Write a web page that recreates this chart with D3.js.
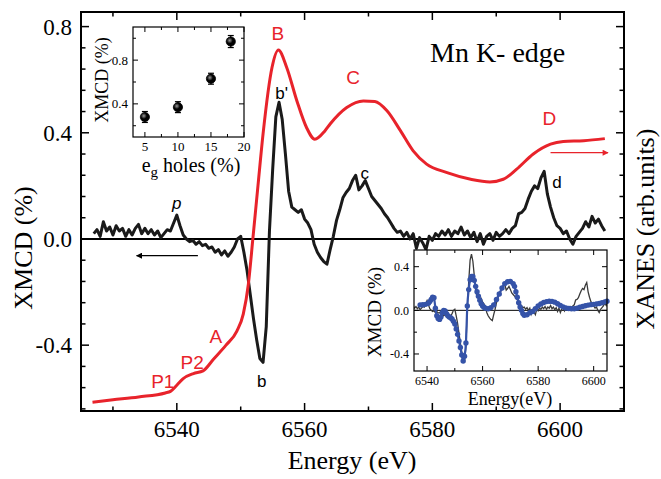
<!DOCTYPE html>
<html>
<head>
<meta charset="utf-8">
<script src="https://d3js.org/d3.v7.min.js"></script>
<style>
  body { margin: 0; background: #fff; }
  svg text { font-family: "Liberation Serif", "Times New Roman", serif; }
</style>
</head>
<body>
<svg width="661" height="479"></svg>
<script>
// XMCD spectrum (black)
const xmcdE = [6527.0,6527.5,6528.0,6528.5,6529.0,6529.5,6530.0,6530.5,6531.0,6531.5,
  6532.0,6532.5,6533.0,6533.5,6534.0,6534.5,6535.0,6535.5,6536.0,6536.5,
  6537.0,6537.5,6538.0,6538.5,6539.0,6539.5,6540.0,6540.5,6541.0,6541.5,
  6542.0,6542.5,6543.0,6543.5,6544.0,6544.5,6545.0,6545.5,6546.0,6546.5,
  6547.0,6547.5,6548.0,6548.5,6549.0,6549.5,6550.0,6550.5,6551.0,6551.5,
  6552.0,6552.5,6553.0,6553.5,6554.0,6554.5,6555.0,6555.5,6556.0,6556.5,
  6557.0,6557.5,6558.0,6558.5,6559.0,6559.5,6560.0,6560.5,6561.0,6561.5,
  6562.0,6562.5,6563.0,6563.5,6564.0,6564.5,6565.0,6565.5,6566.0,6566.5,
  6567.0,6567.5,6568.0,6568.5,6569.0,6569.5,6570.0,6570.5,6571.0,6571.5,
  6572.0,6572.5,6573.0,6573.5,6574.0,6574.5,6575.0,6575.5,6576.0,6576.5,
  6577.0,6577.5,6578.0,6578.5,6579.0,6579.5,6580.0,6580.5,6581.0,6581.5,
  6582.0,6582.5,6583.0,6583.5,6584.0,6584.5,6585.0,6585.5,6586.0,6586.5,
  6587.0,6587.5,6588.0,6588.5,6589.0,6589.5,6590.0,6590.5,6591.0,6591.5,
  6592.0,6592.5,6593.0,6593.5,6594.0,6594.5,6595.0,6595.5,6596.0,6596.5,
  6597.0,6597.5,6598.0,6598.5,6599.0,6599.5,6600.0,6600.5,6601.0,6601.5,
  6602.0,6602.5,6603.0,6603.5,6604.0,6604.5,6605.0,6605.5,6606.0,6606.5,6607.0]
const xmcdV = [0.02,0.035,0.01,0.065,0.03,0.045,0.015,0.05,0.03,0.04,
  0.01,0.035,0.015,0.04,0.055,0.02,0.04,0.02,0.035,0.015,
  0.03,0.005,0.02,0.035,0.03,0.06,0.09,0.05,0.015,0.0,
  -0.01,-0.005,-0.02,-0.01,-0.025,-0.02,-0.035,-0.03,-0.05,-0.04,
  -0.06,-0.045,-0.065,-0.05,-0.03,0.0,0.01,-0.05,-0.12,-0.21,
  -0.3,-0.38,-0.45,-0.465,-0.33,0.03,0.26,0.46,0.515,0.45,
  0.32,0.18,0.12,0.11,0.1,0.11,0.075,0.06,0.035,-0.02,
  -0.05,-0.07,-0.085,-0.095,-0.04,0.01,0.07,0.11,0.155,0.175,
  0.19,0.22,0.24,0.185,0.2,0.22,0.19,0.16,0.145,0.13,
  0.115,0.095,0.08,0.06,0.04,0.025,0.03,0.01,0.025,0.0,
  0.02,-0.035,0.005,-0.015,-0.04,0.01,-0.005,0.02,0.01,0.03,
  0.015,0.035,0.01,0.03,0.02,0.045,0.015,0.03,0.005,0.025,
  -0.01,0.02,-0.02,0.01,0.02,-0.005,0.025,0.01,0.02,0.035,
  0.02,0.04,0.05,0.095,0.1,0.115,0.15,0.18,0.2,0.19,
  0.23,0.255,0.17,0.12,0.08,0.05,0.04,0.02,0.03,0.0,
  -0.02,0.01,0.025,0.04,0.065,0.045,0.085,0.06,0.075,0.05,0.03]

// XANES spectrum (red), arb. units on the right axis
const xanesE = [6526.8,6530,6534,6538.2,6539,6540,6541,6542.6,6544.1,6545.7,6547.7,6549.4,6550.4,6551.2,
  6551.9,6552.7,6553.5,6554.9,6555.9,6557.2,6558.8,6560.3,6561.6,6563.2,6564,6566.6,6569.2,6571,
  6572.9,6575,6577,6579.1,6582.3,6586,6589,6591.1,6593.2,6595.8,6598.5,6600.5,6603.7,6607]
const xanesV = [-0.615,-0.606,-0.595,-0.58,-0.574,-0.551,-0.526,-0.507,-0.497,-0.454,-0.40,-0.347,-0.283,-0.17,
  0.0,0.2,0.396,0.646,0.712,0.646,0.52,0.42,0.376,0.408,0.433,0.495,0.52,0.518,
  0.483,0.408,0.332,0.282,0.25,0.225,0.215,0.225,0.263,0.32,0.357,0.367,0.37,0.378]

// fitted XMCD (blue dots, lower inset)
const fitE = [6537.5,6538.5,6539.5,6540.5,6541.0,6541.5,6542.0,6542.5,6543.0,6543.5,6544.0,6544.5,6545.0,6545.5,
  6546.0,6546.5,6547.0,6547.5,6548.0,6548.5,6549.0,6549.5,6550.0,6550.5,6551.0,6551.5,6552.0,6552.5,
  6553.0,6553.5,6554.0,6554.5,6555.0,6555.5,6556.0,6556.5,6557.0,6557.5,6558.0,6558.5,6559.0,6559.5,
  6560.0,6560.5,6561.0,6562.0,6563.0,6564.0,6565.0,6566.0,6567.0,6568.0,6569.0,6570.0,6571.0,6571.5,
  6572.0,6572.5,6573.0,6573.5,6574.0,6574.5,6575.0,6576.0,6577.0,6578.0,6579.0,6580.0,6581.0,6582.0,
  6583.0,6584.0,6585.0,6586.0,6587.0,6588.0,6589.0,6590.0,6591.0,6592.0,6593.0,6594.0,6595.0,6596.0,
  6597.0,6598.0,6599.0,6600.0,6601.0,6602.0,6603.0,6604.0,6604.8]
const fitV = [0.05,0.052,0.055,0.065,0.08,0.1,0.12,0.115,0.02,-0.05,-0.075,-0.083,-0.06,-0.02,
  0.0,-0.005,-0.03,-0.05,-0.06,-0.068,-0.08,-0.1,-0.125,-0.17,-0.22,-0.28,-0.34,-0.41,
  -0.465,-0.42,-0.3,0.04,0.19,0.28,0.31,0.31,0.275,0.22,0.17,0.13,0.092,0.06,
  0.04,0.028,0.02,0.015,0.025,0.05,0.1,0.15,0.205,0.245,0.262,0.265,0.245,0.22,
  0.17,0.12,0.07,0.03,0.0,-0.03,-0.045,-0.04,-0.022,-0.01,0.015,0.04,0.058,0.072,
  0.08,0.083,0.082,0.075,0.06,0.045,0.032,0.022,0.017,0.015,0.015,0.02,0.028,0.035,
  0.042,0.048,0.052,0.055,0.058,0.062,0.07,0.078,0.083]

// upper inset: XMCD amplitude vs eg holes
const holes = [5, 10, 15, 18]
const holesXmcd = [0.28, 0.37, 0.63, 0.97]
const holesErr = [0.05, 0.05, 0.05, 0.055]

const mainXTicks = [6540, 6560, 6580, 6600]
const mainYTicks = [-0.4, 0.0, 0.4, 0.8]
const inset1XTicks = [5, 10, 15, 20]
const inset1YTicks = [0.4, 0.8]
const inset2XTicks = [6540, 6560, 6580, 6600]
const inset2YTicks = [-0.4, 0.0, 0.4]

const RED = "#e8232b"
const BLUE = "#3553a8"
const SANS = "'Liberation Sans', Arial, sans-serif"
const svg = d3.select("svg")

// draws frame + inward ticks on all four sides
function frame(g, x, y, o){
    const [x0, x1] = x.range(), [y1, y0] = y.range()
    g.append("rect").attr("x", x0).attr("y", y0).attr("width", x1 - x0).attr("height", y1 - y0)
        .attr("fill", o.fill || "none").attr("stroke", "#000").attr("stroke-width", o.sw)
    const tk = g.append("g").attr("stroke", "#000").attr("stroke-width", o.tw)
    const minorX = o.xMinor.filter(v => !o.xMajor.includes(v))
    const minorY = o.yMinor.filter(v => !o.yMajor.some(m => Math.abs(m - v) < 1e-6))
    o.xMajor.forEach(v => {
        tk.append("line").attr("x1", x(v)).attr("x2", x(v)).attr("y1", y1).attr("y2", y1 - o.big)
        tk.append("line").attr("x1", x(v)).attr("x2", x(v)).attr("y1", y0).attr("y2", y0 + o.big)
    })
    minorX.forEach(v => {
        tk.append("line").attr("x1", x(v)).attr("x2", x(v)).attr("y1", y1).attr("y2", y1 - o.small)
        tk.append("line").attr("x1", x(v)).attr("x2", x(v)).attr("y1", y0).attr("y2", y0 + o.small)
    })
    o.yMajor.forEach(v => {
        tk.append("line").attr("y1", y(v)).attr("y2", y(v)).attr("x1", x0).attr("x2", x0 + o.big)
        tk.append("line").attr("y1", y(v)).attr("y2", y(v)).attr("x1", x1).attr("x2", x1 - o.big)
    })
    minorY.forEach(v => {
        tk.append("line").attr("y1", y(v)).attr("y2", y(v)).attr("x1", x0).attr("x2", x0 + o.small)
        tk.append("line").attr("y1", y(v)).attr("y2", y(v)).attr("x1", x1).attr("x2", x1 - o.small)
    })
    g.append("g").selectAll("text").data(o.xMajor).join("text")
        .attr("x", d => x(d)).attr("y", y1 + o.xlab).attr("text-anchor", "middle")
        .attr("font-size", o.fs).text(d => o.xfmt(d))
    g.append("g").selectAll("text").data(o.yMajor).join("text")
        .attr("x", x0 - o.ylab).attr("y", d => y(d)).attr("dy", "0.35em").attr("text-anchor", "end")
        .attr("font-size", o.fs).text(d => o.yfmt(d))
}

// ---------- main plot ----------
const x = d3.scaleLinear().domain([6525, 6610]).range([81, 624])
const y = d3.scaleLinear().domain([-0.648, 0.855]).range([411, 12])
const yR = d3.scaleLinear().domain([-0.648, 0.855]).range([411, 12])

const defs = svg.append("defs")
defs.append("clipPath").attr("id", "clipMain").append("rect")
    .attr("x", 81).attr("y", 12).attr("width", 543).attr("height", 399)

// zero line
svg.append("line").attr("x1", x(6525)).attr("x2", x(6610)).attr("y1", y(0)).attr("y2", y(0))
    .attr("stroke", "#000").attr("stroke-width", 1.8)

const xmcd = xmcdE.map((e, i) => [e, xmcdV[i]])
const lineMain = d3.line().x(d => x(d[0])).y(d => y(d[1]))
svg.append("path").datum(xmcd).attr("clip-path", "url(#clipMain)")
    .attr("d", lineMain).attr("fill", "none").attr("stroke", "#1a1a1a")
    .attr("stroke-width", 3).attr("stroke-linejoin", "round")

const xanes = xanesE.map((e, i) => [e, xanesV[i]])
svg.append("path").datum(xanes)
    .attr("d", d3.line().x(d => x(d[0])).y(d => yR(d[1])).curve(d3.curveMonotoneX))
    .attr("fill", "none").attr("stroke", RED).attr("stroke-width", 3)

frame(svg.append("g"), x, y, {
    sw: 2, tw: 1.5, big: 8, small: 4.5, fs: 23, xlab: 26, ylab: 9,
    xMajor: mainXTicks, xMinor: d3.range(6530, 6610, 10),
    yMajor: mainYTicks, yMinor: d3.range(-0.64, 0.85, 0.08).map(v => +v.toFixed(2)),
    xfmt: d => d, yfmt: d => d.toFixed(1)
})

svg.append("text").attr("x", 352).attr("y", 469).attr("text-anchor", "middle")
    .attr("font-size", 26).text("Energy (eV)")
svg.append("text").attr("transform", "translate(32,248) rotate(-90)").attr("text-anchor", "middle")
    .attr("font-size", 26).text("XMCD (%)")
svg.append("text").attr("transform", "translate(654,229) rotate(-90)").attr("text-anchor", "middle")
    .attr("font-size", 26).text("XANES (arb.units)")
svg.append("text").attr("x", 430).attr("y", 62).attr("font-size", 28).text("Mn K- edge")

// arrows
defs.append("marker").attr("id", "headK").attr("viewBox", "0 0 10 10").attr("refX", 9).attr("refY", 5)
    .attr("markerWidth", 9).attr("markerHeight", 6).attr("orient", "auto").attr("markerUnits", "userSpaceOnUse")
    .append("path").attr("d", "M0,0 L10,5 L0,10 z").attr("fill", "#000")
defs.append("marker").attr("id", "headR").attr("viewBox", "0 0 10 10").attr("refX", 9).attr("refY", 5)
    .attr("markerWidth", 9).attr("markerHeight", 6).attr("orient", "auto").attr("markerUnits", "userSpaceOnUse")
    .append("path").attr("d", "M0,0 L10,5 L0,10 z").attr("fill", RED)
svg.append("line").attr("x1", x(6543.3)).attr("x2", x(6533.7)).attr("y1", y(-0.063)).attr("y2", y(-0.063))
    .attr("stroke", "#000").attr("stroke-width", 1.3).attr("marker-end", "url(#headK)")
svg.append("line").attr("x1", x(6598.5)).attr("x2", x(6607.5)).attr("y1", yR(0.325)).attr("y2", yR(0.325))
    .attr("stroke", RED).attr("stroke-width", 1.3).attr("marker-end", "url(#headR)")

// peak labels
const redLabels = [["B", 6555.8, 0.775], ["C", 6567.6, 0.61], ["D", 6598.3, 0.455],
    ["A", 6546.1, -0.365], ["P2", 6542.4, -0.465], ["P1", 6537.8, -0.535]]
svg.append("g").selectAll("text").data(redLabels).join("text")
    .attr("x", d => x(d[1])).attr("y", d => yR(d[2])).attr("dy", "0.35em").attr("text-anchor", "middle")
    .attr("fill", RED).style("font-family", SANS).attr("font-size", 19)
    .text(d => d[0])
const blackLabels = [["b", 6553.3, -0.535], ["b'", 6556.4, 0.55], ["c", 6569.4, 0.25], ["d", 6599.5, 0.215]]
svg.append("g").selectAll("text").data(blackLabels).join("text")
    .attr("x", d => x(d[1])).attr("y", d => y(d[2])).attr("dy", "0.35em").attr("text-anchor", "middle")
    .style("font-family", SANS).attr("font-size", 17).text(d => d[0])
svg.append("text").attr("x", x(6540)).attr("y", y(0.136)).attr("dy", "0.35em").attr("text-anchor", "middle")
    .style("font-family", SANS).style("font-style", "italic")
    .attr("font-size", 17).text("p")

// ---------- inset 1: XMCD vs eg holes ----------
const x1 = d3.scaleLinear().domain([3.2, 20]).range([133, 244])
const y1 = d3.scaleLinear().domain([0.097, 1.103]).range([137, 27])
const g1 = svg.append("g")
g1.append("rect").attr("x", 133).attr("y", 27).attr("width", 111).attr("height", 110).attr("fill", "#fff")
frame(g1, x1, y1, {
    sw: 1.2, tw: 1, big: 5, small: 3, fs: 13, xlab: 14, ylab: 5,
    xMajor: inset1XTicks, xMinor: [7.5, 12.5, 17.5],
    yMajor: inset1YTicks, yMinor: [0.2, 0.6, 1.0],
    xfmt: d => d, yfmt: d => d.toFixed(1)
})
const ball = defs.append("radialGradient").attr("id", "ball").attr("cx", "38%").attr("cy", "38%").attr("r", "60%")
ball.append("stop").attr("offset", "0%").attr("stop-color", "#9a9a9a")
ball.append("stop").attr("offset", "55%").attr("stop-color", "#000")
const pts = holes.map((h, i) => ({h, v: holesXmcd[i], e: holesErr[i]}))
const eb = g1.append("g").attr("stroke", "#000").attr("stroke-width", 1.2)
pts.forEach(d => {
    eb.append("line").attr("x1", x1(d.h)).attr("x2", x1(d.h)).attr("y1", y1(d.v - d.e)).attr("y2", y1(d.v + d.e))
    eb.append("line").attr("x1", x1(d.h) - 3).attr("x2", x1(d.h) + 3).attr("y1", y1(d.v - d.e)).attr("y2", y1(d.v - d.e))
    eb.append("line").attr("x1", x1(d.h) - 3).attr("x2", x1(d.h) + 3).attr("y1", y1(d.v + d.e)).attr("y2", y1(d.v + d.e))
})
g1.append("g").selectAll("circle").data(pts).join("circle")
    .attr("cx", d => x1(d.h)).attr("cy", d => y1(d.v)).attr("r", 4.6)
    .attr("fill", "url(#ball)").attr("stroke", "#000").attr("stroke-width", 0.8)
g1.append("text").attr("transform", "translate(108,80) rotate(-90)").attr("text-anchor", "middle")
    .attr("font-size", 18).text("XMCD (%)")
const xl = g1.append("text").attr("x", 191).attr("y", 172).attr("text-anchor", "middle").attr("font-size", 20)
xl.append("tspan").text("e")
xl.append("tspan").attr("font-size", 15).attr("dy", 5).text("g")
xl.append("tspan").attr("dy", -5).text(" holes (%)")

// ---------- inset 2: XMCD with fit ----------
const x2 = d3.scaleLinear().domain([6535.3, 6604.8]).range([414, 607])
const y2 = d3.scaleLinear().domain([-0.556, 0.553]).range([371, 250])
const g2 = svg.append("g")
g2.append("rect").attr("x", 414).attr("y", 250).attr("width", 193).attr("height", 121).attr("fill", "#fff")
defs.append("clipPath").attr("id", "clipIn2").append("rect")
    .attr("x", 414).attr("y", 250).attr("width", 193).attr("height", 121)
g2.append("line").attr("x1", 414).attr("x2", 607).attr("y1", y2(0)).attr("y2", y2(0))
    .attr("stroke", "#000").attr("stroke-width", 1)
g2.append("path").datum(xmcd).attr("clip-path", "url(#clipIn2)")
    .attr("d", d3.line().x(d => x2(d[0])).y(d => y2(d[1])))
    .attr("fill", "none").attr("stroke", "#3a3a3a").attr("stroke-width", 1.3)
const fit = fitE.map((e, i) => [e, fitV[i]])
g2.append("path").datum(fit)
    .attr("d", d3.line().x(d => x2(d[0])).y(d => y2(d[1])).curve(d3.curveMonotoneX))
    .attr("fill", "none").attr("stroke", BLUE).attr("stroke-width", 2.2)
g2.append("g").selectAll("circle").data(fit).join("circle")
    .attr("cx", d => x2(d[0])).attr("cy", d => y2(d[1])).attr("r", 2.7).attr("fill", BLUE)
frame(g2, x2, y2, {
    sw: 1.2, tw: 1, big: 5, small: 3, fs: 12, xlab: 14, ylab: 5,
    xMajor: inset2XTicks, xMinor: [6550, 6570, 6590],
    yMajor: inset2YTicks, yMinor: [-0.2, 0.2],
    xfmt: d => d, yfmt: d => d.toFixed(1)
})
g2.append("text").attr("transform", "translate(381,312) rotate(-90)").attr("text-anchor", "middle")
    .attr("font-size", 19).text("XMCD (%)")
g2.append("text").attr("x", 510).attr("y", 405).attr("text-anchor", "middle")
    .attr("font-size", 18).text("Energy(eV)")
</script>
</body>
</html>
